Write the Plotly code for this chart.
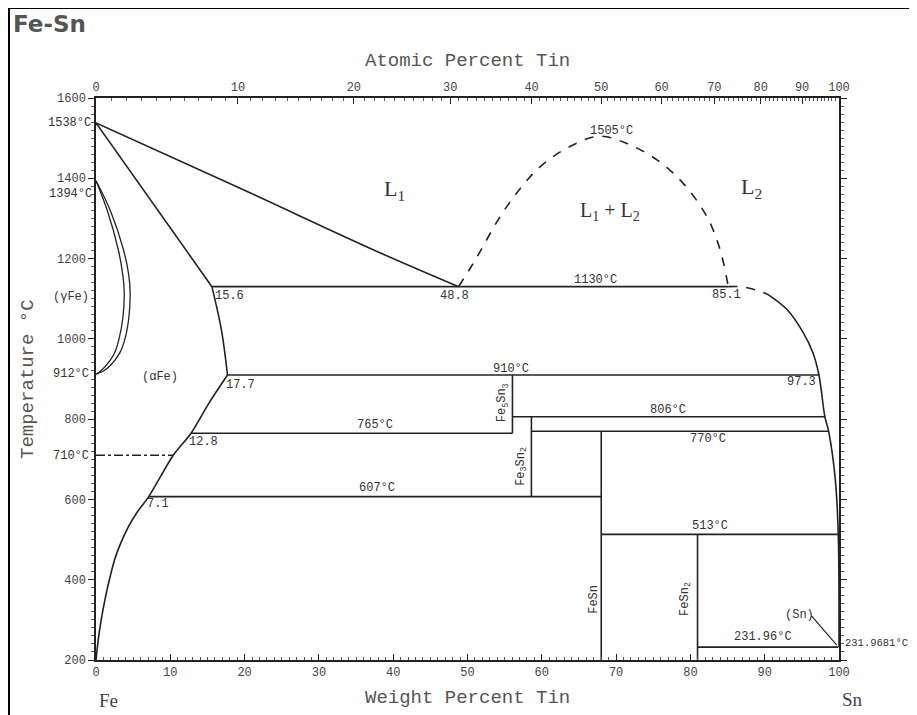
import plotly.graph_objects as go

# ---------------- data (weight % Sn, temperature °C) ----------------
FE_MASS, SN_MASS = 55.845, 118.71

liq_fe_x = [0, 19.4, 37.3, 48.8]
liq_fe_t = [1538, 1375, 1222, 1130]

sol_fe_x = [0, 15.6]
sol_fe_t = [1538, 1130]

alpha_hi_x = [15.6, 16.9, 17.7]
alpha_hi_t = [1130, 1020, 910]
alpha_x = [17.7, 15.2, 12.8, 10.4, 7.1, 5.6, 4.3, 3.3, 2.5, 1.8, 1.2, 0.7, 0.3, 0]
alpha_t = [910, 840, 765, 710, 607, 570, 530, 490, 450, 400, 350, 300, 250, 200]

gamma_out_x = [0, 1.9, 3.7, 4.4, 4.6, 4.4, 3.9, 3.2, 2.0, 1.0, 0]
gamma_out_t = [1394, 1321, 1222, 1160, 1114, 1050, 1000, 965, 935, 920, 912]
gamma_in_x = [0, 1.5, 3.0, 3.6, 3.8, 3.6, 3.1, 2.5, 1.5, 0.7, 0]
gamma_in_t = [1394, 1321, 1222, 1160, 1114, 1050, 1000, 965, 937, 921, 912]

gap_x = [48.8, 50.8, 55.3, 59.8, 64.2, 67.8, 71.4, 75.5, 79.0, 82.2, 84.0, 85.1]
gap_t = [1130, 1189, 1330, 1429, 1483, 1505, 1487, 1446, 1388, 1305, 1222, 1130]

liq_sn_dash_x = [85.1, 86.7, 88.8, 90.3]
liq_sn_dash_t = [1130, 1130, 1122, 1112]
liq_sn_x = [90.3, 93.0, 95.2, 96.5, 97.3, 98.1, 98.6, 99.5, 99.9, 100]
liq_sn_t = [1112, 1073, 1015, 965, 910, 806, 770, 650, 513, 231.97]

# invariant horizontals: temperature, x start, x end
h_temps = [1130, 910, 806, 765, 770, 607, 513, 231.96]
h_x0 = [15.6, 17.7, 56.05, 12.8, 58.6, 7.1, 68.0, 80.96]
h_x1 = [85.1, 97.3, 98.1, 56.05, 98.6, 68.0, 99.9, 99.9]

# compounds: composition, top T, bottom T
comp_x = [56.05, 58.6, 68.0, 80.96]
comp_top = [910, 806, 770, 513]
comp_bot = [765, 607, 200, 200]

eut710_x = [0, 10.4]
eut710_t = [710, 710]

sn_leader_x = [96.3, 99.7]
sn_leader_t = [310, 237]

atomic_labels = [0, 10, 20, 30, 40, 50, 60, 70, 80, 90, 100]
wt_labels = [0, 10, 20, 30, 40, 50, 60, 70, 80, 90, 100]
temp_ticks = [200, 400, 600, 800, 1000, 1200, 1400, 1600]


def at_to_wt(a):
    return a * SN_MASS / (a * SN_MASS + (100 - a) * FE_MASS) * 100


# ---------------- figure ----------------
OFF = 8  # page body margin
W, H = 917 - OFF, 715 - OFF
L, R, T, B = 96 - OFF, 78, 98 - OFF, 55
PW, PH = W - L - R, H - T - B
LINE = "#222"
MONO = "Liberation Mono"
SERIF = "Liberation Serif"
TXT = "#333"


def px(xp):  # page pixel -> paper x
    return (xp - OFF - L) / PW


def py(yp):  # page pixel -> paper y
    return (H - B - (yp - OFF)) / PH


fig = go.Figure()


def add_line(x, y, dash="solid", shape="linear", width=1.6, smoothing=1.0):
    fig.add_trace(go.Scatter(x=x, y=y, mode="lines",
                             line=dict(color=LINE, width=width, dash=dash, shape=shape,
                                       smoothing=smoothing),
                             hoverinfo="skip", showlegend=False))


add_line(liq_fe_x, liq_fe_t, shape="spline")
add_line(sol_fe_x, sol_fe_t)
add_line(alpha_hi_x, alpha_hi_t, shape="spline")
add_line(alpha_x, alpha_t, shape="spline", smoothing=0.8)
add_line(gamma_out_x, gamma_out_t, shape="spline", width=1.3)
add_line(gamma_in_x, gamma_in_t, shape="spline", width=1.3)
add_line(gap_x, gap_t, dash="dash", shape="spline")
add_line(liq_sn_dash_x, liq_sn_dash_t, dash="dash", shape="spline")
add_line(liq_sn_x, liq_sn_t, shape="spline")
for t, a0, b0 in zip(h_temps, h_x0, h_x1):
    add_line([a0, b0], [t, t])
for c, tp, bt in zip(comp_x, comp_top, comp_bot):
    add_line([c, c], [tp, bt])
add_line(eut710_x, eut710_t, dash="dashdot", width=1.3)
add_line(sn_leader_x, sn_leader_t, width=1.2)

# invisible trace to anchor the top (atomic) axis
fig.add_trace(go.Scatter(x=[0, 100], y=[1600, 1600], xaxis="x2", mode="markers",
                         marker=dict(opacity=0), hoverinfo="skip", showlegend=False))

top_major = [at_to_wt(a) for a in atomic_labels]
top_minor = [at_to_wt(a) for a in range(1, 100)]

tickfont = dict(family=MONO, size=12, color="#444")

fig.update_layout(
    width=W, height=H, autosize=False,
    margin=dict(l=L, r=R, t=T, b=B),
    paper_bgcolor="white", plot_bgcolor="white",
    hovermode=False, showlegend=False,
    xaxis=dict(range=[0, 100], showgrid=False, zeroline=False, showline=True,
               linecolor=LINE, linewidth=1.5, tickmode="array", tickvals=wt_labels,
               ticktext=[str(v) for v in wt_labels], ticks="inside", ticklen=6,
               tickcolor=LINE, tickfont=tickfont,
               minor=dict(tickmode="linear", tick0=0, dtick=1, ticks="inside",
                          ticklen=3, tickcolor="#555")),
    xaxis2=dict(range=[0, 100], overlaying="x", side="top", showgrid=False,
                zeroline=False, showline=True, linecolor=LINE, linewidth=1.5,
                tickmode="array", tickvals=top_major,
                ticktext=[str(v) for v in atomic_labels], ticks="inside", ticklen=6,
                tickcolor=LINE, tickfont=tickfont,
                minor=dict(tickmode="array", tickvals=top_minor, ticks="inside",
                           ticklen=3, tickcolor="#555")),
    yaxis=dict(range=[200, 1600], showgrid=False, zeroline=False, showline=True,
               linecolor=LINE, linewidth=1.5, mirror="ticks", tickmode="array",
               tickvals=temp_ticks, ticktext=[str(v) for v in temp_ticks],
               ticks="outside", ticklen=6, tickcolor=LINE, tickfont=tickfont,
               minor=dict(tickmode="linear", tick0=200, dtick=20, ticks="outside",
                          ticklen=3, tickcolor="#555")),
)

ann = []


def a(text, x, y, size=12, family=MONO, xref="x", yref="y", angle=0,
      xanchor="center", yanchor="middle", color=TXT):
    ann.append(dict(text=text, x=x, y=y, xref=xref, yref=yref, showarrow=False,
                    textangle=angle, xanchor=xanchor, yanchor=yanchor,
                    font=dict(family=family, size=size, color=color)))


# in-plot labels
a("1505°C", 69.4, 1518)
a("L<sub>1</sub>", 40.2, 1371, size=22, family=SERIF)
a("L<sub>1</sub> + L<sub>2</sub>", 69.2, 1317, size=20, family=SERIF)
a("L<sub>2</sub>", 88.2, 1375, size=22, family=SERIF)
a("1130°C", 67.2, 1147)
a("48.8", 48.3, 1108)
a("85.1", 84.8, 1110)
a("15.6", 18.0, 1106)
a("17.7", 19.5, 886)
a("12.8", 14.5, 743)
a("7.1", 8.3, 588)
a("765°C", 37.5, 785)
a("607°C", 37.8, 628)
a("910°C", 55.8, 925)
a("806°C", 77.0, 824)
a("770°C", 82.4, 750)
a("97.3", 95.0, 892)
a("513°C", 82.6, 534)
a("231.96°C", 89.8, 258)
a("231.9681°C", px(843), 243, size=10.5, xref="paper", xanchor="left")
a("(Sn)", 94.7, 312)
a("(αFe)", 8.6, 905)
a("Fe<sub>5</sub>Sn<sub>3</sub>", 54.8, 840, angle=-90)
a("Fe<sub>3</sub>Sn<sub>2</sub>", 57.3, 683, angle=-90)
a("FeSn", 67.0, 352, angle=-90)
a("FeSn<sub>2</sub>", 79.4, 352, angle=-90)

# labels left of the temperature axis
a("1538°C", px(93), 1538, xref="paper", xanchor="right")
a("1394°C", px(94), 1362, xref="paper", xanchor="right")
a("(γFe)", px(91), 1105, xref="paper", xanchor="right")
a("912°C", px(91), 912, xref="paper", xanchor="right")
a("710°C", px(91), 707, xref="paper", xanchor="right")

# axis titles and element labels
a("Atomic Percent Tin", 0.5, py(61), size=19, xref="paper", yref="paper", color="#555")
a("Weight Percent Tin", 0.5, py(698), size=19, xref="paper", yref="paper", color="#555")
a("Temperature °C", px(28), 0.5, size=19, xref="paper", yref="paper", angle=-90,
  color="#555")
a("Fe", px(108), py(700), size=19, family=SERIF, xref="paper", yref="paper", color="#444")
a("Sn", px(852), py(699), size=19, family=SERIF, xref="paper", yref="paper", color="#444")
a("<b>Fe-Sn</b>", px(11), py(24), size=23, family="DejaVu Sans", xref="paper",
  yref="paper", xanchor="left", color="#555")

fig.update_layout(annotations=ann)

# frame
fig.add_shape(type="line", xref="paper", yref="paper", x0=px(7), x1=px(917),
              y0=py(7.5), y1=py(7.5), line=dict(color="black", width=3))
fig.add_shape(type="line", xref="paper", yref="paper", x0=px(8.5), x1=px(8.5),
              y0=py(6), y1=py(715), line=dict(color="black", width=3))

fig.write_html("out.html")
